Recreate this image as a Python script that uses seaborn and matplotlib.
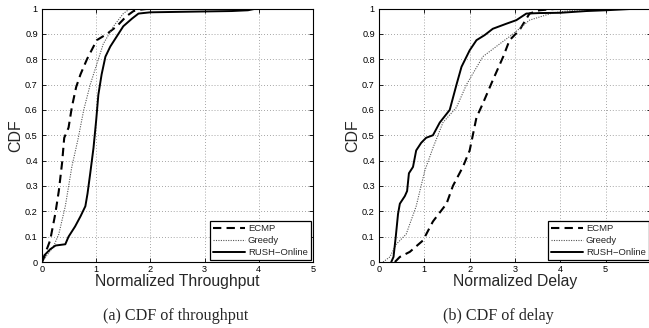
import numpy as np
import pandas as pd
import matplotlib
matplotlib.use("Agg")
import matplotlib.pyplot as plt
import seaborn as sns

# ---- data: (x, CDF) points ----
thr_ecmp_x = [0, 0.15, 0.245, 0.31, 0.37, 0.41, 0.49, 0.55, 0.63, 0.71, 0.83, 0.95, 1.01, 1.2, 1.38, 1.56, 1.69, 1.8, 2.0]
thr_ecmp_y = [0, 0.085, 0.19, 0.28, 0.39, 0.49, 0.53, 0.61, 0.69, 0.74, 0.80, 0.85, 0.875, 0.90, 0.93, 0.97, 0.99, 0.995, 1.0]
thr_greedy_x = [0, 0.21, 0.31, 0.43, 0.55, 0.67, 0.77, 0.89, 1.01, 1.13, 1.32, 1.5, 1.63]
thr_greedy_y = [0, 0.06, 0.11, 0.22, 0.375, 0.49, 0.60, 0.70, 0.78, 0.86, 0.93, 0.98, 1.0]
thr_rush_x = [0, 0.06, 0.15, 0.25, 0.43, 0.49, 0.61, 0.71, 0.80, 0.84, 0.89, 0.95, 1.0, 1.04, 1.1, 1.17, 1.26, 1.38, 1.5, 1.66, 1.78, 2.0, 3.5, 3.8, 3.96]
thr_rush_y = [0, 0.03, 0.05, 0.065, 0.07, 0.10, 0.14, 0.18, 0.22, 0.27, 0.35, 0.45, 0.56, 0.66, 0.74, 0.81, 0.85, 0.89, 0.93, 0.96, 0.98, 0.985, 0.99, 0.993, 1.0]

del_ecmp_x = [0.35, 0.46, 0.68, 0.97, 1.19, 1.49, 1.63, 1.85, 2.0, 2.15, 2.29, 2.51, 2.74, 2.88, 3.1, 3.32, 3.54, 3.99]
del_ecmp_y = [0, 0.02, 0.04, 0.085, 0.16, 0.23, 0.30, 0.375, 0.44, 0.57, 0.625, 0.717, 0.81, 0.875, 0.915, 0.98, 0.993, 1.0]
del_greedy_x = [0.09, 0.24, 0.38, 0.6, 0.82, 1.01, 1.19, 1.41, 1.71, 1.93, 2.29, 2.66, 2.96, 3.32, 3.84, 4.28, 5.31]
del_greedy_y = [0, 0.02, 0.07, 0.11, 0.22, 0.36, 0.45, 0.55, 0.61, 0.70, 0.81, 0.86, 0.90, 0.954, 0.983, 0.993, 1.0]
del_rush_x = [0.27, 0.32, 0.37, 0.42, 0.46, 0.57, 0.62, 0.66, 0.75, 0.82, 0.93, 1.04, 1.19, 1.34, 1.56, 1.71, 1.82, 2.0, 2.15, 2.33, 2.51, 2.81, 3.03, 3.25, 3.54, 3.99, 4.57, 5.0, 5.75]
del_rush_y = [0, 0.02, 0.10, 0.19, 0.23, 0.26, 0.28, 0.35, 0.375, 0.44, 0.47, 0.49, 0.50, 0.55, 0.60, 0.70, 0.77, 0.835, 0.875, 0.895, 0.92, 0.94, 0.954, 0.98, 0.982, 0.983, 0.99, 0.993, 1.0]

series_names = ["ECMP", "Greedy", "RUSH\u2212Online"]
x_labels = ["Normalized Throughput", "Normalized Delay"]
captions = ["(a) CDF of throughput", "(b) CDF of delay"]
y_ticks = [0, 0.1, 0.2, 0.3, 0.4, 0.5, 0.6, 0.7, 0.8, 0.9, 1]
y_tick_labels = ["0", "0.1", "0.2", "0.3", "0.4", "0.5", "0.6", "0.7", "0.8", "0.9", "1"]

def make_df(xs, ys):
    frames = []
    for name, x, y in zip(series_names, xs, ys):
        frames.append(pd.DataFrame({"x": x, "y": y, "method": name}))
    return pd.concat(frames, ignore_index=True)

df_thr = make_df([thr_ecmp_x, thr_greedy_x, thr_rush_x], [thr_ecmp_y, thr_greedy_y, thr_rush_y])
df_del = make_df([del_ecmp_x, del_greedy_x, del_rush_x], [del_ecmp_y, del_greedy_y, del_rush_y])

sns.set_style("ticks")
plt.rcParams["font.family"] = ["Liberation Sans", "DejaVu Sans"]

fig = plt.figure(figsize=(6.49, 3.28), dpi=100)
W, H = 649, 328
ax1 = fig.add_axes([42 / W, (H - 262) / H, 271 / W, 253.5 / H])
ax2 = fig.add_axes([379 / W, (H - 262) / H, 272 / W, 253.5 / H])

styles = {"ECMP": (0, (4, 2.5)), "Greedy": (0, (1, 1.2)), "RUSH\u2212Online": "-"}
widths = {"ECMP": 1.5, "Greedy": 0.8, "RUSH\u2212Online": 1.4}
colors = {"ECMP": "black", "Greedy": "#555555", "RUSH\u2212Online": "black"}

for ax, df, xmax, xl, cap in [(ax1, df_thr, 5, x_labels[0], captions[0]),
                              (ax2, df_del, 6, x_labels[1], captions[1])]:
    for name in series_names:
        sub = df[df["method"] == name]
        sns.lineplot(data=sub, x="x", y="y", ax=ax, color=colors[name],
                     linestyle=styles[name], linewidth=widths[name], label=name,
                     sort=False, estimator=None)
    ax.set_xlim(0, xmax)
    ax.set_ylim(0, 1)
    ax.set_xticks(range(0, xmax + 1))
    ax.set_yticks(y_ticks)
    ax.set_yticklabels(y_tick_labels)
    ax.tick_params(direction="in", length=3, width=0.6, labelsize=6.6,
                   top=True, right=True, colors="black")
    ax.tick_params(axis="y", pad=3)
    ax.tick_params(axis="x", pad=2.5)
    ax.grid(True, linestyle=(0, (1, 2.5)), color="#888888", linewidth=0.6)
    for s in ax.spines.values():
        s.set_visible(True)
        s.set_color("black")
        s.set_linewidth(0.8)
    ax.set_xlabel(xl, fontsize=11.3, labelpad=0)
    ax.set_ylabel("CDF", fontsize=11.5, labelpad=1)
    leg = ax.legend(loc="lower right", fontsize=6.8, frameon=True, fancybox=False,
                    borderpad=0.3, labelspacing=0.3, handlelength=3.4, handletextpad=0.3,
                    borderaxespad=0.25)
    leg.get_frame().set_edgecolor("black")
    leg.get_frame().set_linewidth(0.9)
    leg.get_frame().set_alpha(1)

fig.text(176 / W, 1 - 316 / H, captions[0], ha="center", va="center",
         fontsize=11.6, family=["Liberation Serif", "DejaVu Serif"])
fig.text(498 / W, 1 - 316 / H, captions[1], ha="center", va="center",
         fontsize=11.6, family=["Liberation Serif", "DejaVu Serif"])

fig.savefig("out.png", dpi=100)
